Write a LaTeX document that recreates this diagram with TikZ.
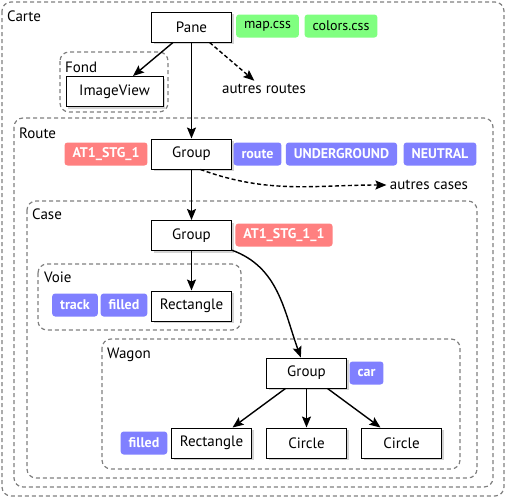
\documentclass[tikz,border=0pt]{standalone}
\usepackage{fontspec}
\setmainfont{PT Sans}
\usepackage{xcolor}
\usetikzlibrary{arrows.meta, shadows}
\definecolor{cssgreen}{HTML}{80FF80}
\definecolor{clsblue}{HTML}{8080FF}
\definecolor{idred}{HTML}{FF8080}
\tikzstyle{arrow} = [line width=1.4pt,-{Stealth[length=11pt,width=9pt,inset=2pt]}]

\begin{document}
\begin{tikzpicture}
        [
            x=1pt, y=-1pt,
            box/.style={rectangle,draw=black,line width=1pt,fill=white,minimum width=80pt,minimum height=30pt,inner sep=0pt,
                drop shadow={shadow xshift=2pt,shadow yshift=-2pt,opacity=0.35}},
            tag/.style={rectangle,rounded corners=3pt,text=white,minimum height=23pt,inner xsep=8pt,inner ysep=0pt,
                font=\fontsize{14}{16}\selectfont\bfseries},
            css/.style={tag,fill=cssgreen,text=black,font=\fontsize{14}{16}\selectfont},
            cls/.style={tag,fill=clsblue},
            ident/.style={tag,fill=idred},
            zone/.style={draw=gray,line width=1.2pt,dash pattern=on 4pt off 3pt,rounded corners=9pt},
            title/.style={anchor=base west,inner sep=0pt},
            every node/.append style={font=\fontsize{15}{18}\selectfont},
        ]

    \useasboundingbox (0,0) rectangle (507,498);

    % zones
    \draw[zone] (2,2) rectangle (504,496);
    \node[title] (carte) at (7,21) {Carte};
    \draw[zone] (60,52) rectangle (168,112);
    \node[title] (fond) at (65,72) {Fond};
    \draw[zone] (14,118) rectangle (493,487);
    \node[title] (route) at (19,138) {Route};
    \draw[zone] (27,201) rectangle (477,478);
    \node[title] (case) at (32,219) {Case};
    \draw[zone] (38,264) rectangle (241,330);
    \node[title] (voie) at (44,282) {Voie};
    \draw[zone] (102,339) rectangle (460,469);
    \node[title] (wagon) at (107,358) {Wagon};

    % noeuds
    \node[box] (pane) at (191.5,27) {Pane};
    \node[box,minimum width=97pt] (image) at (114.5,91.5) {ImageView};
    \node (routes) at (264,89) {autres routes};
    \node[box] (group1) at (191.5,154) {Group};
    \node (cases) at (429,185) {autres cases};
    \node[box] (group2) at (191.5,235.5) {Group};
    \node[box] (rect1) at (191.5,306) {Rectangle};
    \node[box] (group3) at (306.5,373) {Group};
    \node[box] (rect2) at (211.5,443) {Rectangle};
    \node[box] (circle1) at (306.5,443) {Circle};
    \node[box] (circle2) at (401.5,443) {Circle};

    % classes et ids
    \node[css] (mapcss) at (267.5,26) {map.css};
    \node[css] (colorscss) at (341,26) {colors.css};
    \node[ident] (id1) at (106,154) {AT1\_STG\_1};
    \node[cls] (clsroute) at (257.5,154) {route};
    \node[cls] (clsunder) at (341.5,154) {UNDERGROUND};
    \node[cls] (clsneutral) at (440,154) {NEUTRAL};
    \node[ident] (id2) at (284,235) {AT1\_STG\_1\_1};
    \node[cls] (clstrack) at (75,305) {track};
    \node[cls] (clsfilled1) at (124,305) {filled};
    \node[cls] (clscar) at (366.5,373) {car};
    \node[cls] (clsfilled2) at (144,443) {filled};

    % liens
    \draw[arrow] (pane) -- (image);
    \draw[arrow,dash pattern=on 4pt off 2.5pt] (pane) -- (routes);
    \draw[arrow] (pane) -- (group1);
    \draw[arrow] (group1) -- (group2);
    \draw[arrow,dash pattern=on 4pt off 2.5pt] ([xshift=9pt]group1.south) to[out=-20,in=180] (cases);
    \draw[arrow] (group2) -- (rect1);
    \draw[arrow] (group2) to[out=-20,in=110] (group3);
    \draw[arrow] (group3) -- (rect2);
    \draw[arrow] (group3) -- (circle1);
    \draw[arrow] (group3) -- (circle2);
    \end{tikzpicture}
\end{document}
